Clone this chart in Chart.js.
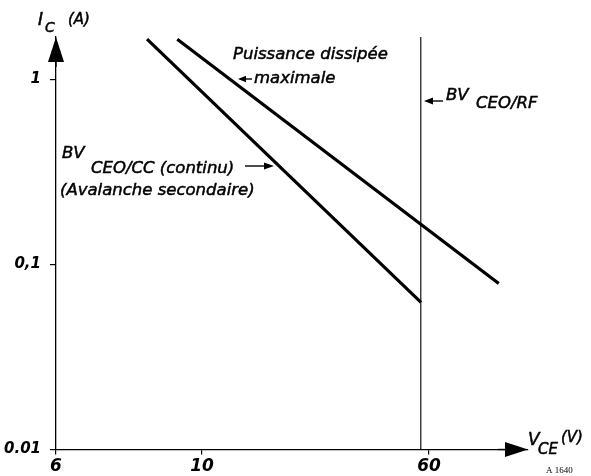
<!DOCTYPE html>
<html>
<head>
<meta charset="utf-8">
<script src="https://cdn.jsdelivr.net/npm/chart.js@4.4.1/dist/chart.umd.min.js"></script>
<style>
  html, body { margin: 0; padding: 0; background: #fff; }
  canvas { display: block; }
</style>
</head>
<body>
<canvas id="soa-chart" width="591" height="476"></canvas>
<script>
// safe operating area, log-log (I_C vs V_CE)

// BV CEO/CC (continu) - avalanche secondaire
const ccVoltage = [8.25, 56.3];
const ccCurrent = [1.645, 0.0623];

// puissance dissipee maximale
const powerVoltage = [9.17, 104];
const powerCurrent = [1.645, 0.0789];

// BV CEO/RF limit
const rfVoltage = [56.2, 56.2];
const rfCurrent = [1.69, 0.01];

const xTickValues = [6, 10, 60];
const xTickLabels = ['6', '10', '60'];
const yTickValues = [0.01, 0.1, 1];
const yTickLabels = ['0.01', '0,1', '1'];

const FONT = "'DejaVu Sans', 'Liberation Sans', sans-serif";

// log axis whose part below "breakAt" is drawn stretched (as on the original sheet)
class StretchLogScale extends Chart.LogarithmicScale {
    _u(v) {
        const b = Math.log10(this.options.breakAt);
        const l = Math.log10(v);
        return l >= b ? l : b - (b - l) * this.options.stretch;
    }
    _uInv(u) {
        const b = Math.log10(this.options.breakAt);
        return u >= b ? Math.pow(10, u) : Math.pow(10, b - (b - u) / this.options.stretch);
    }
    getPixelForValue(value) {
        if (value === undefined || value === null || isNaN(value) || value <= 0) return NaN;
        const a = this._u(this.min), b = this._u(this.max);
        return this.getPixelForDecimal((this._u(value) - a) / (b - a));
    }
    getValueForPixel(pixel) {
        const a = this._u(this.min), b = this._u(this.max);
        return this._uInv(a + this.getDecimalForPixel(pixel) * (b - a));
    }
}
StretchLogScale.id = 'stretchLog';
StretchLogScale.defaults = Chart.LogarithmicScale.defaults;
Chart.register(StretchLogScale);

const toPoints = (xs, ys) => xs.map((x, i) => ({ x: x, y: ys[i] }));

function drawArrow(c, x1, y1, x2, y2, head, w) {
    const ang = Math.atan2(y2 - y1, x2 - x1);
    c.beginPath();
    c.moveTo(x1, y1);
    c.lineTo(x2 - Math.cos(ang) * head * 0.8, y2 - Math.sin(ang) * head * 0.8);
    c.lineWidth = 1.4;
    c.strokeStyle = '#000';
    c.stroke();
    c.beginPath();
    c.moveTo(x2, y2);
    c.lineTo(x2 - Math.cos(ang) * head + Math.sin(ang) * w, y2 - Math.sin(ang) * head - Math.cos(ang) * w);
    c.lineTo(x2 - Math.cos(ang) * head - Math.sin(ang) * w, y2 - Math.sin(ang) * head + Math.cos(ang) * w);
    c.closePath();
    c.fillStyle = '#000';
    c.fill();
}

// italic text, slightly emboldened like the printed lettering
function label(c, str, x, y, size, family) {
    c.font = 'italic ' + size + 'px ' + (family || FONT);
    c.textAlign = 'left';
    c.textBaseline = 'middle';
    c.fillStyle = '#000';
    c.strokeStyle = '#000';
    c.lineWidth = 0.5;
    c.fillText(str, x, y);
    c.strokeText(str, x, y);
}

const notes = {
    id: 'notes',
    afterDraw(chart) {
        const c = chart.ctx;
        const area = chart.chartArea;
        c.save();
        // axis arrow heads
        drawArrow(c, area.left, area.top + 30, area.left, area.top, 25, 8);
        drawArrow(c, area.right - 30, area.bottom, area.right, area.bottom, 23, 7.5);

        // axis titles
        label(c, 'I', 38, 21, 17);
        label(c, 'C', 45, 28, 14);
        label(c, '(A)', 68, 20, 15);
        label(c, 'V', 528, 441, 17);
        label(c, 'CE', 538, 450, 15);
        label(c, '(V)', 561, 438, 15);

        c.font = '9px "Liberation Serif", serif';
        c.textAlign = 'left';
        c.textBaseline = 'middle';
        c.fillText('A 1640', 546, 471);

        // curve notes
        label(c, 'Puissance dissipée', 233, 55, 16.5);
        drawArrow(c, 252, 79, 238, 79, 8, 3.2);
        label(c, 'maximale', 254, 79, 16.5);

        drawArrow(c, 443, 101, 424, 101, 9, 3.5);
        label(c, 'BV', 446, 96, 16.5);
        label(c, 'CEO/RF', 476, 104, 16.5);

        label(c, 'BV', 62, 154, 16.5);
        label(c, 'CEO/CC (continu)', 91, 169, 16.5);
        drawArrow(c, 245, 166, 274, 166, 10, 3.5);
        label(c, '(Avalanche secondaire)', 60, 191, 16.5);
        c.restore();
    }
};

new Chart(document.getElementById('soa-chart').getContext('2d'), {
    type: 'scatter',
    data: {
        datasets: [
            {
                data: toPoints(ccVoltage, ccCurrent),
                showLine: true, borderColor: '#000', borderWidth: 3.2, pointRadius: 0
            },
            {
                data: toPoints(powerVoltage, powerCurrent),
                showLine: true, borderColor: '#000', borderWidth: 3.2, pointRadius: 0
            },
            {
                data: toPoints(rfVoltage, rfCurrent),
                showLine: true, borderColor: '#222', borderWidth: 1.3, pointRadius: 0
            }
        ]
    },
    options: {
        responsive: false,
        animation: false,
        events: [],
        layout: { padding: { top: 37, right: 63, left: 0, bottom: 0 } },
        plugins: {
            legend: { display: false },
            tooltip: { enabled: false }
        },
        scales: {
            x: {
                type: 'stretchLog',
                min: 6,
                max: 131,
                breakAt: 10,
                stretch: 2.256,
                afterBuildTicks: s => { s.ticks = xTickValues.map(v => ({ value: v })); },
                afterFit: s => { s.height = 26.5; },
                grid: { drawOnChartArea: false, drawTicks: true, tickLength: 5, color: '#000', lineWidth: 1.2 },
                border: { color: '#000', width: 1.3 },
                ticks: {
                    color: '#000', autoSkip: false, maxRotation: 0, padding: 2,
                    font: { family: FONT, size: 17, style: 'italic', weight: 'bold' },
                    callback: (v, i) => xTickLabels[i]
                }
            },
            y: {
                type: 'logarithmic',
                min: 0.01,
                max: 1.69,
                afterBuildTicks: s => { s.ticks = yTickValues.map(v => ({ value: v })); },
                afterFit: s => { s.width = 56; },
                grid: { drawOnChartArea: false, drawTicks: true, tickLength: 6, color: '#000', lineWidth: 1.2 },
                border: { color: '#000', width: 1.3 },
                ticks: {
                    color: '#000', autoSkip: false, padding: 9,
                    font: { family: FONT, size: 15, style: 'italic', weight: 'bold' },
                    callback: (v, i) => yTickLabels[i]
                }
            }
        }
    },
    plugins: [notes]
});
</script>
</body>
</html>
